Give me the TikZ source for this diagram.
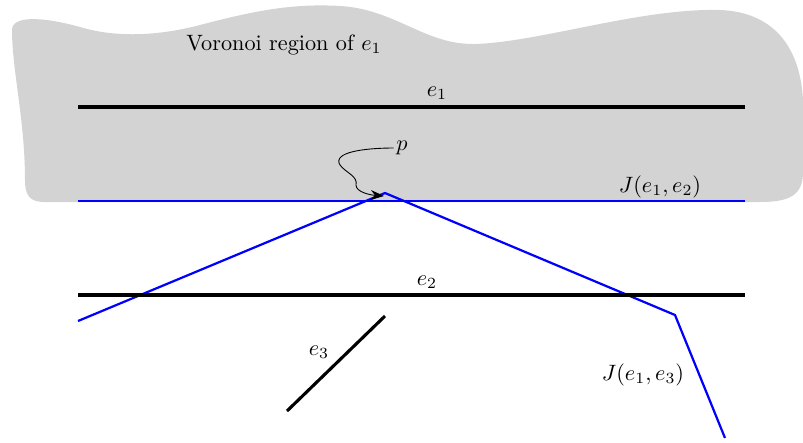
\documentclass[tikz,border=0pt]{standalone}
\usepackage{amsmath}
\usepackage{amssymb}
\usepackage{tikz}
\usetikzlibrary{
    positioning,
    arrows.meta
}
\definecolor{regiongray}{RGB}{211,211,211}
\tikzset{
    >=Stealth,
    segmento/.style={
        line width=1.4pt,
        black
    },
    bisectriz/.style={
        line width=1pt,
        blue
    },
    etiqueta/.style={
        inner sep=1pt
    }
}

\begin{document}
\begin{tikzpicture}[
    x=0.45pt,
    y=-0.45pt,
    >=Stealth
]
    \useasboundingbox (0,0) rectangle (803,442);

    % Region de Voronoi
    \fill[regiongray] (12,30)
        .. controls (12,16) and (40,16) .. (80,27)
        .. controls (110,36) and (150,38) .. (200,25)
        .. controls (250,12) and (290,3) .. (340,6)
        .. controls (395,9) and (425,45) .. (475,44)
        .. controls (540,42) and (640,8) .. (720,10)
        .. controls (772,12) and (800,45) .. (803,100)
        -- (803,172)
        .. controls (803,195) and (790,202) .. (760,202)
        -- (45,202)
        .. controls (30,202) and (25,196) .. (25,180)
        .. controls (25,120) and (12,70) .. cycle;
    \node[etiqueta] (vor) at (284,45) {Voronoi region of $e_1$};

    % Extremos de los segmentos
    \coordinate (e1a) at (78,107);
    \coordinate (e1b) at (745,107);
    \coordinate (e2a) at (78,295);
    \coordinate (e2b) at (745,295);
    \coordinate (e3a) at (287,411);
    \coordinate (e3b) at (385,316);

    % Bisectrices
    \coordinate (j2a) at (78,201);
    \coordinate (j2b) at (745,201);
    \coordinate (j3a) at (78,321);
    \coordinate (pt)  at (385,193);
    \coordinate (j3c) at (675,315);
    \coordinate (j3d) at (725,438);

    \draw[bisectriz] (j2a) -- (j2b);
    \draw[bisectriz] (j3a) -- (pt) -- (j3c) -- (j3d);

    % Segmentos
    \draw[segmento] (e1a) -- (e1b);
    \draw[segmento] (e2a) -- (e2b);
    \draw[segmento] (e3a) -- (e3b);

    % Etiquetas
    \node[etiqueta] (le1) at (437,93)  {$e_1$};
    \node[etiqueta] (le2) at (427,282) {$e_2$};
    \node[etiqueta] (le3) at (319,352) {$e_3$};
    \node[etiqueta] (lj2) at (660,187) {$J(e_1,e_2)$};
    \node[etiqueta] (lj3) at (643,375) {$J(e_1,e_3)$};
    \node[etiqueta] (lp)  at (402,148) {$p$};

    % Flecha hacia p
    \coordinate (tip) at (384,196);
    \draw[-{Stealth[length=6pt]}, thin] (lp.west)
        .. controls (365,148) and (332,152) .. (340,165)
        .. controls (346,173) and (358,176) .. (356,185)
        .. controls (356,192) and (370,195) .. (tip);

\end{tikzpicture}
\end{document}
